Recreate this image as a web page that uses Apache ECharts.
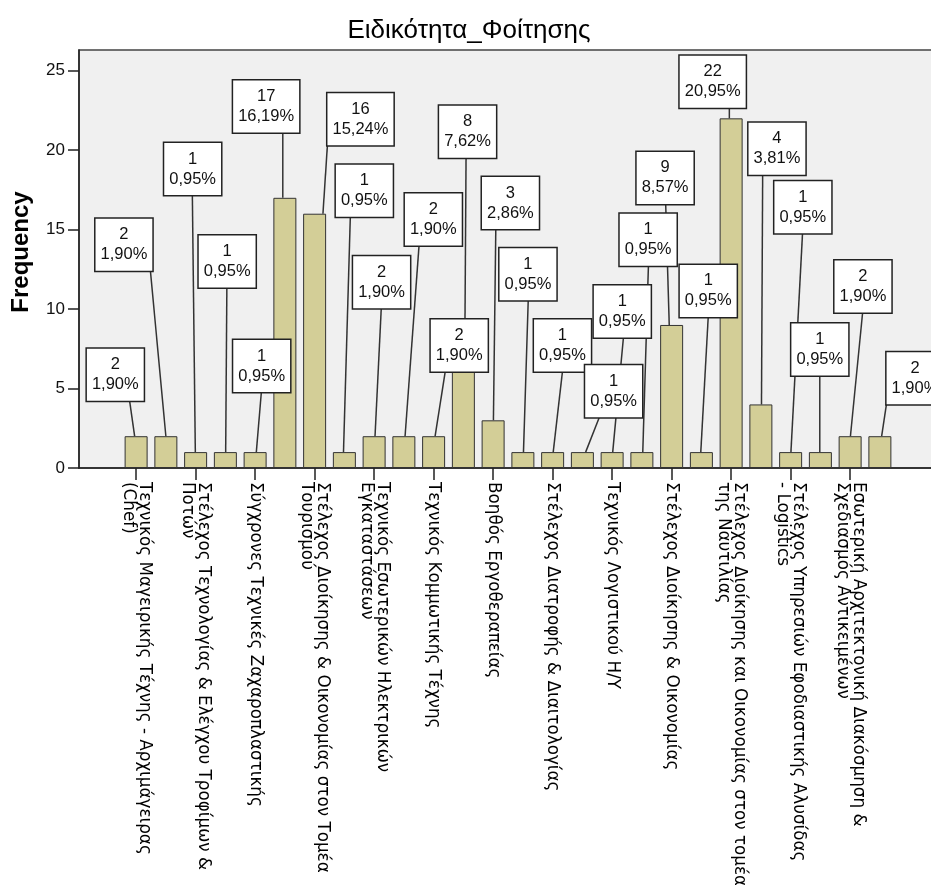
<!DOCTYPE html>
<html>
<head>
<meta charset="utf-8">
<script src="https://cdn.jsdelivr.net/npm/echarts@6/dist/echarts.min.js"></script>
<style>
  html, body { margin: 0; padding: 0; background: #ffffff; }
  #chart { width: 931px; height: 885px; }
</style>
</head>
<body>
<div id="chart"></div>
<script>
// Frequencies per specialisation, in axis order
const counts = [2, 2, 1, 1, 1, 17, 16, 1, 2, 2, 2, 8, 3, 1, 1, 1, 1, 1, 9, 1, 22, 4, 1, 1, 2, 2];

// Labels printed under every second bar (positions 0, 2, 4, ... 24)
const tickLabels = [
  'Τεχνικός Μαγειρικής Τέχνης - Αρχιμάγειρας\n(Chef)',
  'Στέλεχος Τεχνολογίας & Ελέγχου Τροφίμων &\nΠοτών',
  'Σύγχρονες Τεχνικές Ζαχαροπλαστικής',
  'Στέλεχος Διοίκησης & Οικονομίας στον Τομέα\nΤουρισμού',
  'Τεχνικός Εσωτερικών Ηλεκτρικών\nΕγκαταστάσεων',
  'Τεχνικός Κομμωτικής Τέχνης',
  'Βοηθός Εργοθεραπείας',
  'Στέλεχος Διατροφής & Διαιτολογίας',
  'Τεχνικός Λογιστικού Η/Υ',
  'Στέλεχος Διοίκησης & Οικονομίας',
  'Στέλεχος Διοίκησης και Οικονομίας στον τομέα\nτης Ναυτιλίας',
  'Στέλεχος Υπηρεσιών Εφοδιαστικής Αλυσίδας\n- Logistics',
  'Εσωτερική Αρχιτεκτονική Διακόσμηση &\nΣχεδιασμός Αντικειμένων'
];
const labelPositions = tickLabels.map((_, k) => k * 2);
const yTicks = [0, 5, 10, 15, 20, 25];

// Callout placement in axis units: box centre (x in bar steps, y in frequency),
// and the x where the leader leaves the box and where it meets the bar top
const calloutX = [-0.70, -0.41, 1.90, 3.06, 4.22, 4.37, 7.54, 7.67, 8.25, 9.99, 10.86, 11.14, 12.58,
                  13.17, 14.33, 16.05, 16.34, 17.21, 17.78, 19.23, 19.38, 21.54, 22.41, 22.98, 24.43, 26.18];
const calloutY = [5.87, 14.05, 18.81, 12.99, 6.42, 22.74, 21.95, 17.44, 11.69, 15.64, 7.70, 21.15, 16.67,
                  12.19, 7.70, 4.83, 9.84, 14.36, 18.25, 11.14, 24.31, 20.09, 16.40, 7.45, 11.42, 5.64];
const leaderTopX = [-0.22, 0.48, 1.89, 3.05, 4.21, 4.93, 6.43, 7.20, 8.24, 9.51, 10.39, 11.09, 12.09,
                    13.18, 14.33, 15.57, 16.38, 17.22, 17.80, 19.23, 19.94, 21.06, 22.40, 22.98, 24.42, 25.22];
const leaderBottomX = [-0.05, 1.00, 1.99, 3.01, 4.04, 4.93, 6.28, 6.97, 8.03, 9.04, 10.05, 11.05, 12.01,
                       13.02, 14.02, 15.11, 16.02, 17.03, 17.92, 18.98, 19.94, 21.02, 22.01, 22.98, 24.01, 25.06];

const total = counts.reduce((a, b) => a + b, 0);
const pct = c => (c / total * 100).toFixed(2).replace('.', ',') + '%';

const numFont = '"Liberation Sans", Arial, sans-serif';
const BOX_H = 52;

function renderCallout(params, api) {
  const i = params.dataIndex;
  const c = counts[i];
  const box = api.coord([calloutX[i], calloutY[i]]);
  const lineTop = api.coord([leaderTopX[i], calloutY[i]]);
  const lineEnd = api.coord([leaderBottomX[i], c]);
  return {
    type: 'group',
    children: [
      {
        type: 'line',
        z2: 1,
        shape: { x1: lineTop[0], y1: box[1] + BOX_H / 2, x2: lineEnd[0], y2: lineEnd[1] },
        style: { stroke: '#333333', lineWidth: 1.5 }
      },
      {
        type: 'text',
        z2: 10,
        x: box[0],
        y: box[1],
        style: {
          text: c + '\n' + pct(c),
          align: 'center',
          verticalAlign: 'middle',
          fontSize: 16.5,
          fontFamily: numFont,
          fill: '#111111',
          lineHeight: 20,
          backgroundColor: '#ffffff',
          borderColor: '#222222',
          borderWidth: 1.5,
          padding: [7, 5, 5, 5]
        }
      }
    ]
  };
}

const chart = echarts.init(document.getElementById('chart'), null, { renderer: 'canvas' });

chart.setOption({
  animation: false,
  backgroundColor: '#ffffff',
  title: {
    text: 'Ειδικότητα_Φοίτησης',
    left: 464,
    textAlign: 'center',
    top: 13,
    textStyle: { fontSize: 26, fontWeight: 'normal', fontFamily: numFont, color: '#000000' }
  },
  grid: {
    left: 79,
    right: -6,
    top: 50,
    bottom: 417,
    outerBoundsMode: 'none',
    containLabel: false,
    show: true,
    backgroundColor: '#f0f0f0',
    borderColor: '#444444',
    borderWidth: 1.5
  },
  xAxis: {
    type: 'value',
    min: -1.92,
    max: 26.92,
    splitLine: { show: false },
    axisLine: { show: true, onZero: false, lineStyle: { color: '#222222', width: 1.5 } },
    axisTick: { show: true, customValues: labelPositions, length: 12, lineStyle: { color: '#222222', width: 1.5 } },
    axisLabel: {
      show: true,
      customValues: labelPositions,
      formatter: v => tickLabels[Math.round(v / 2)],
      rotate: -90,
      margin: 14,
      fontSize: 16.8,
      lineHeight: 16,
      fontFamily: '"DejaVu Sans", sans-serif',
      color: '#000000'
    }
  },
  yAxis: {
    type: 'value',
    min: 0,
    max: 26.3,
    name: 'Frequency',
    nameLocation: 'middle',
    nameGap: 46,
    nameRotate: 90,
    nameTextStyle: { fontSize: 24, fontWeight: 'bold', fontFamily: numFont, color: '#000000', padding: [0, 0, 0, 14] },
    splitLine: { show: false },
    axisLine: { show: true, onZero: false, lineStyle: { color: '#222222', width: 1.5 } },
    axisTick: { show: true, customValues: yTicks, length: 11, lineStyle: { color: '#222222', width: 1.5 } },
    axisLabel: { show: true, customValues: yTicks, margin: 14, fontSize: 17, fontFamily: numFont, color: '#111111' }
  },
  series: [
    {
      type: 'bar',
      data: counts.map((c, i) => [i, c]),
      barWidth: 23,
      itemStyle: { color: '#d3ce97', borderColor: '#333333', borderWidth: 1 },
      z: 2
    },
    {
      type: 'custom',
      data: counts.map((c, i) => [i, c]),
      renderItem: renderCallout,
      clip: false,
      z: 3
    }
  ]
});
</script>
</body>
</html>
